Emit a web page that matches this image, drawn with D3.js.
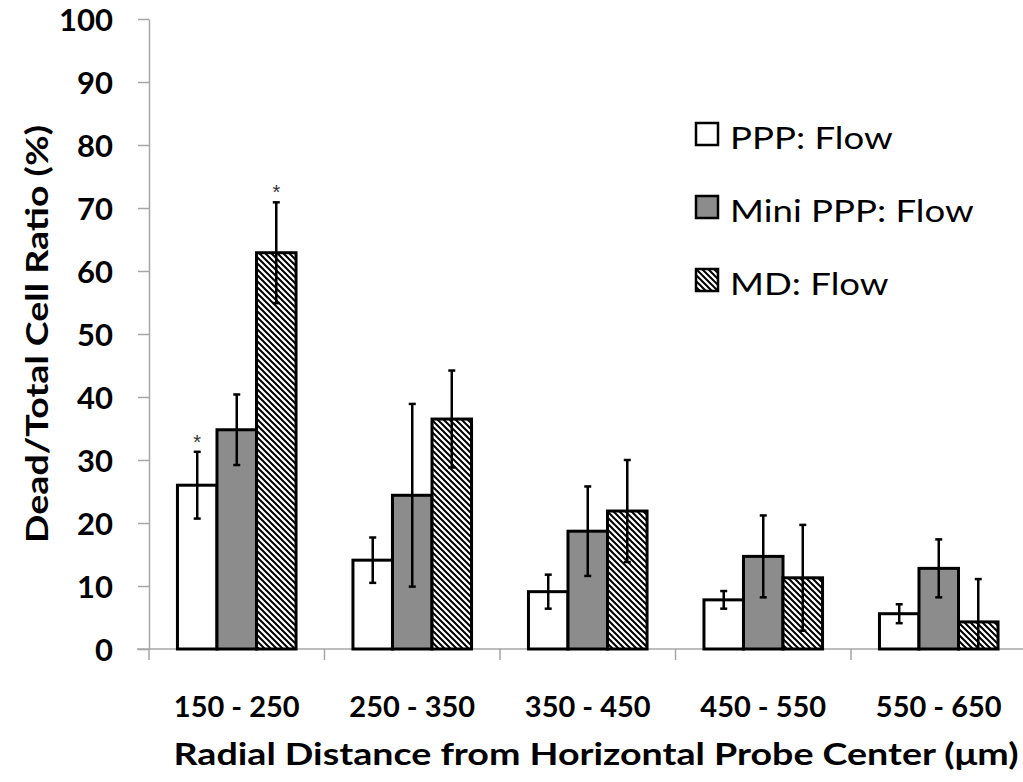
<!DOCTYPE html>
<html>
<head>
<meta charset="utf-8">
<script src="https://cdn.jsdelivr.net/npm/d3@7"></script>
<style>
  body { margin: 0; background: #fff; }
  svg { display: block; font-family: Lato, "Open Sans", sans-serif; }
</style>
</head>
<body>
<svg id="chart" width="1023" height="782"></svg>
<script>
/* ------------------------- DATA ------------------------- */

const categories = ["150 - 250", "250 - 350", "350 - 450", "450 - 550", "550 - 650"]
const series = ["PPP: Flow", "Mini PPP: Flow", "MD: Flow"]

const pppValues = [26.0, 14.1, 9.1, 7.8, 5.6]
const pppErrors = [5.3, 3.6, 2.7, 1.4, 1.5]

const miniValues = [34.8, 24.4, 18.7, 14.7, 12.8]
const miniErrors = [5.6, 14.5, 7.1, 6.5, 4.6]

const mdValues = [62.9, 36.5, 21.9, 11.3, 4.3]
const mdErrors = [8.0, 7.7, 8.1, 8.4, 6.8]

const yTicks = [0, 10, 20, 30, 40, 50, 60, 70, 80, 90, 100]

// significance stars: [category index, series index]
const stars = [[0, 0], [0, 2]]

/* ------------------------- SETUP ------------------------- */

const svg = d3.select("#chart")

const y = d3.scaleLinear().domain([0, 100]).range([649, 19])

const x0 = d3.scaleBand().domain(categories).range([149, 1026.5])
const x1 = d3.scaleBand().domain(series).range([0, x0.bandwidth()]).paddingOuter(0.72)

const allValues = [pppValues, miniValues, mdValues]
const allErrors = [pppErrors, miniErrors, mdErrors]

let rows = []
categories.forEach(function (c, ci) {
    series.forEach(function (s, si) {
        rows.push({ cat: c, ci: ci, ser: s, si: si, value: allValues[si][ci], err: allErrors[si][ci] })
    })
})

/* ------------------------- PATTERN ------------------------- */

const defs = svg.append("defs")
const pat = defs.append("pattern")
    .attr("id", "hatch")
    .attr("patternUnits", "userSpaceOnUse")
    .attr("width", 6).attr("height", 6)
pat.append("rect").attr("width", 6).attr("height", 6).attr("fill", "#fff")
pat.append("path")
    .attr("d", "M-1,-1 L7,7 M-4,2 L4,10 M2,-4 L10,4")
    .attr("stroke", "#000").attr("stroke-width", 2)

const fills = ["#ffffff", "#8c8c8c", "url(#hatch)"]

/* ------------------------- AXES ------------------------- */

const axisColor = "#a6a6a6"

const yAxis = svg.append("g")
    .attr("transform", "translate(149,0)")
    .call(d3.axisLeft(y).tickValues(yTicks).tickSize(11).tickSizeOuter(0).tickPadding(25))
yAxis.select(".domain").attr("stroke", axisColor).attr("stroke-width", 1.5)
yAxis.selectAll(".tick line").attr("stroke", axisColor).attr("stroke-width", 1.5)
yAxis.selectAll(".tick text")
    .attr("font-family", "Lato, sans-serif")
    .attr("font-size", 31).attr("font-weight", "bold").attr("fill", "#000")
    .attr("dy", "0.36em")
yAxis.append("line")
    .attr("x1", 0).attr("x2", 0).attr("y1", y(0)).attr("y2", y(0) + 11)
    .attr("stroke", axisColor).attr("stroke-width", 1.5)

const xAxis = svg.append("g")
xAxis.append("line")
    .attr("x1", 137).attr("x2", 1023).attr("y1", y(0)).attr("y2", y(0))
    .attr("stroke", axisColor).attr("stroke-width", 1.5)
xAxis.selectAll("line.tick")
    .data(categories.slice(1))
    .enter().append("line")
    .attr("class", "tick")
    .attr("x1", d => x0(d)).attr("x2", d => x0(d))
    .attr("y1", y(0)).attr("y2", y(0) + 11)
    .attr("stroke", axisColor).attr("stroke-width", 1.5)
xAxis.selectAll("text")
    .data(categories)
    .enter().append("text")
    .attr("x", d => x0(d) + x0.bandwidth() / 2)
    .attr("y", 717)
    .attr("text-anchor", "middle")
    .attr("font-size", 29).attr("font-weight", "bold")
    .text(d => d)

/* ------------------------- BARS ------------------------- */

svg.append("g").attr("class", "bars")
    .selectAll("rect")
    .data(rows)
    .enter().append("rect")
    .attr("x", d => x0(d.cat) + x1(d.ser))
    .attr("y", d => y(d.value))
    .attr("width", x1.bandwidth())
    .attr("height", d => y(0) - y(d.value))
    .attr("fill", d => fills[d.si])
    .attr("stroke", "#000").attr("stroke-width", 3)

/* ------------------------- ERROR BARS ------------------------- */

const eb = svg.append("g").attr("class", "errors")
    .selectAll("g")
    .data(rows)
    .enter().append("g")
    .attr("transform", d => "translate(" + (x0(d.cat) + x1(d.ser) + x1.bandwidth() / 2) + ",0)")

eb.append("line")
    .attr("y1", d => y(d.value + d.err))
    .attr("y2", d => y(Math.max(0, d.value - d.err)))
    .attr("stroke", "#000").attr("stroke-width", 2.5)
eb.append("line")
    .attr("x1", -3.5).attr("x2", 3.5)
    .attr("y1", d => y(d.value + d.err)).attr("y2", d => y(d.value + d.err))
    .attr("stroke", "#000").attr("stroke-width", 2.5)
eb.filter(d => d.value - d.err > 0).append("line")
    .attr("x1", -3.5).attr("x2", 3.5)
    .attr("y1", d => y(d.value - d.err)).attr("y2", d => y(d.value - d.err))
    .attr("stroke", "#000").attr("stroke-width", 2.5)

svg.append("g").selectAll("text")
    .data(stars)
    .enter().append("text")
    .attr("x", d => x0(categories[d[0]]) + x1(series[d[1]]) + x1.bandwidth() / 2)
    .attr("y", d => y(allValues[d[1]][d[0]] + allErrors[d[1]][d[0]]) - 3)
    .attr("text-anchor", "middle")
    .attr("font-family", "Arial, Liberation Sans, sans-serif")
    .attr("font-size", 20).attr("fill", "#333")
    .text("*")

/* ------------------------- LEGEND ------------------------- */

const legend = svg.append("g").selectAll("g")
    .data(series)
    .enter().append("g")
    .attr("transform", (d, i) => "translate(696," + (123 + i * 73) + ")")

legend.append("rect")
    .attr("width", 22).attr("height", 22)
    .attr("fill", (d, i) => fills[i])
    .attr("stroke", "#000").attr("stroke-width", 2.5)
legend.append("text")
    .attr("transform", "translate(34,26) scale(1.22,1)")
    .attr("font-size", 30)
    .text(d => d)

/* ------------------------- TITLES ------------------------- */

svg.append("text")
    .attr("x", 596).attr("y", 765)
    .attr("text-anchor", "middle")
    .attr("font-size", 30).attr("font-weight", "bold")
    .attr("textLength", 845).attr("lengthAdjust", "spacingAndGlyphs")
    .text("Radial Distance from Horizontal Probe Center (\u03bcm)")

svg.append("text")
    .attr("transform", "translate(48,334) rotate(-90)")
    .attr("text-anchor", "middle")
    .attr("font-size", 30).attr("font-weight", "bold")
    .attr("textLength", 418).attr("lengthAdjust", "spacingAndGlyphs")
    .text("Dead/Total Cell Ratio (%)")
</script>
</body>
</html>
